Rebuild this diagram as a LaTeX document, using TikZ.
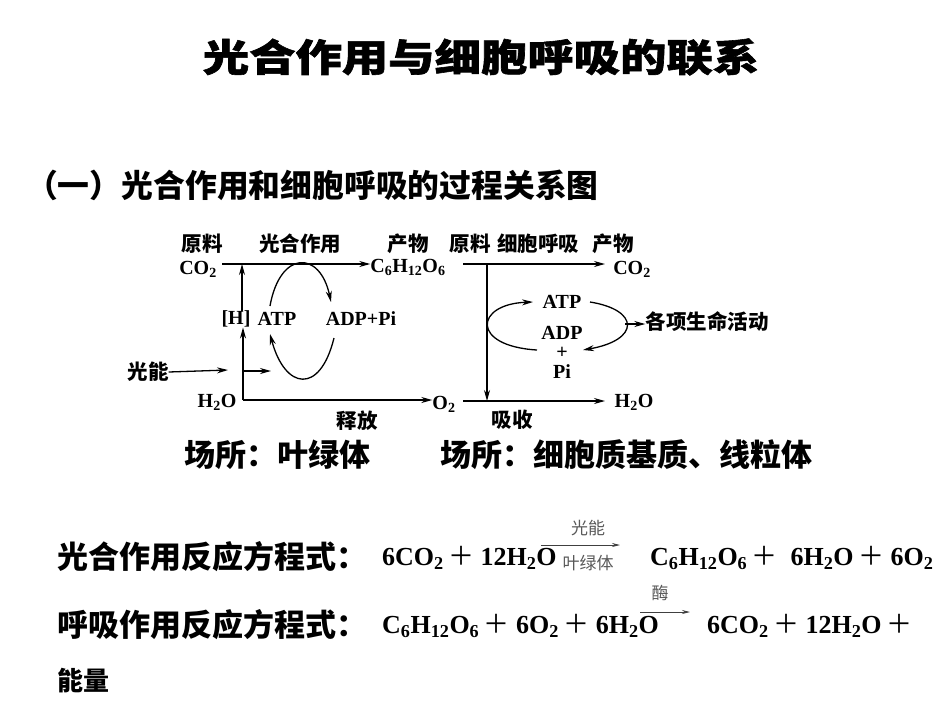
\documentclass[tikz,border=0pt]{standalone}
\usepackage{fontspec}
\setmainfont{Liberation Serif}
\newfontfamily\cjk{Noto Sans CJK SC}
\usetikzlibrary{arrows.meta}
\newcommand\myfs[1]{\fontsize{#1}{#1}\selectfont}
\newcommand\pl{\,{\cjk\mdseries ＋}}
\begin{document}
\begin{tikzpicture}[x=1pt,y=-1pt,
  lab/.style={inner sep=0pt,font=\cjk\bfseries\myfs{20.5}},
  chem/.style={inner sep=0pt,font=\bfseries\myfs{20}},
  arr/.style={line width=1.3pt,-{Stealth[length=11pt,width=6pt]}},
  ln/.style={line width=1.3pt},
  big/.style={inner sep=0pt,font=\cjk\bfseries\myfs{31},anchor=west},
  eq/.style={inner sep=0pt,font=\bfseries\myfs{26},anchor=west},
  small/.style={inner sep=0pt,font=\cjk\myfs{17},text=black!65}]
\useasboundingbox[fill=white] (0,0) rectangle (950,713);
% titles
\node[inner sep=0pt,font=\cjk\bfseries\myfs{38}\addfontfeature{FakeBold=1.5}] (title) at (481,57) {\scalebox{1.22}[1]{光合作用与细胞呼吸的联系}};
\node[big,font=\cjk\bfseries\myfs{31.8}] (sub) at (26,185) {（一）光合作用和细胞呼吸的过程关系图};
% left diagram
\node[lab] (yl1) at (202,244) {原料};
\node[lab] (gh) at (300,244) {光合作用};
\node[lab] (cw1) at (408,244) {产物};
\node[chem] (co2a) at (198,269) {CO\textsubscript{2}};
\node[chem] (glc) at (408,267) {C\textsubscript{6}H\textsubscript{12}O\textsubscript{6}};
\node[chem] (h) at (236,319) {[H]};
\node[chem] (atp1) at (277,319) {ATP};
\node[chem] (adp1) at (361,319) {ADP+Pi};
\node[lab] (gn) at (148,372) {光能};
\node[chem] (h2oa) at (217,402) {H\textsubscript{2}O};
\node[chem] (o2) at (444,404) {O\textsubscript{2}};
\node[lab] (sf) at (357,421) {释放};
\coordinate (j1) at (242,264);
\coordinate (c1) at (243,400);
\coordinate (gt) at (228,370);
\coordinate (s1) at (243,371);
\coordinate (s2) at (271,371);
\draw[arr] (222,264) -- (glc.west |- j1);
\draw[arr] (h.north -| j1) -- (j1);
\draw[arr] (c1) -- (h.south -| c1);
\draw[arr] (c1) -- (o2.west |- c1);
\draw[arr] (gn.east) -- (gt);
\draw[arr] (s1) -- (s2);
\draw[arr] (270,306) .. controls (280,250) and (320,250) .. (331,302);
\draw[arr] (334,338) .. controls (320,395) and (285,390) .. (270,334);
% right diagram
\node[lab] (yl2) at (470,244) {原料};
\node[lab] (hx) at (538,244) {细胞呼吸};
\node[lab] (cw2) at (613,244) {产物};
\node[chem] (co2b) at (632,269) {CO\textsubscript{2}};
\node[chem] (atp2) at (562,302) {ATP};
\node[chem] (adp2) at (562,333) {ADP};
\node[chem] (plus) at (562,353) {+};
\node[chem] (pi) at (562,372) {Pi};
\node[lab] (gx) at (707,322) {各项生命活动};
\node[chem] (h2ob) at (634,402) {H\textsubscript{2}O};
\node[lab] (xs) at (512,420) {吸收};
\coordinate (j2) at (487,264);
\coordinate (j3) at (487,401);
\coordinate (rr) at (625,324);
\draw[arr] (463,264) -- (605,264);
\draw[arr] (j2) -- (j3);
\draw[arr] (463,401) -- (605,401);
\draw[arr] (537,350) .. controls (470,346) and (475,304) .. (533,302);
\draw[arr] (590,302) .. controls (640,310) and (640,340) .. (583,350);
\draw[arr] (rr) -- (gx.west |- rr);
% sites
\node[inner sep=0pt,font=\cjk\bfseries\myfs{31}] (site1) at (277,455) {场所：叶绿体};
\node[inner sep=0pt,font=\cjk\bfseries\myfs{31}] (site2) at (626,455) {场所：细胞质基质、线粒体};
% equations
\node[big] (eqn1) at (57,557) {光合作用反应方程式：};
\node[eq] (e1a) at (382,558) {6CO\textsubscript{2}\pl\ 12H\textsubscript{2}O};
\node[small] (gn2) at (588,528) {光能};
\node[small] (ylt) at (588,563) {叶绿体};
\coordinate (a1) at (541,545);
\coordinate (a2) at (620,545);
\draw[line width=0.8pt,-{Stealth[length=8pt,width=4pt]},black!75] (a1) -- (a2);
\node[eq] (e1b) at (650,558) {C\textsubscript{6}H\textsubscript{12}O\textsubscript{6}\pl\ \ 6H\textsubscript{2}O\pl\ 6O\textsubscript{2}};
\node[big] (eqn2) at (57,625) {呼吸作用反应方程式：};
\node[eq] (e2a) at (382,626) {C\textsubscript{6}H\textsubscript{12}O\textsubscript{6}\pl\ 6O\textsubscript{2}\pl\ 6H\textsubscript{2}O};
\node[small] (mei) at (660,593) {酶};
\coordinate (b1) at (640,612);
\coordinate (b2) at (690,612);
\draw[line width=0.8pt,-{Stealth[length=8pt,width=4pt]},black!75] (b1) -- (b2);
\node[eq] (e2b) at (707,626) {6CO\textsubscript{2}\pl\ 12H\textsubscript{2}O\pl};
\node[big,font=\cjk\bfseries\myfs{26}] (nl) at (57,681) {能量};
\end{tikzpicture}
\end{document}
